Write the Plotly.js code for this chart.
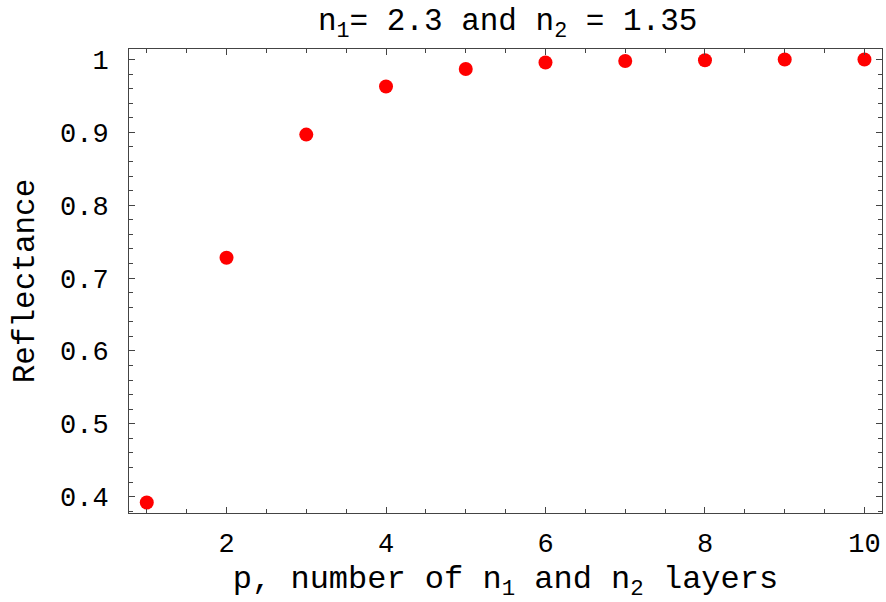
<!DOCTYPE html>
<html>
<head>
<meta charset="utf-8">
<script src="https://cdn.plot.ly/plotly-3.0.1.min.js"></script>
<style>html,body{margin:0;padding:0;background:#fff;}#chart{width:886px;height:602px;}</style>
</head>
<body>
<div id="chart"></div>
<script>
const layers = [1, 2, 3, 4, 5, 6, 7, 8, 9, 10];
const reflectance = [0.392, 0.728, 0.897, 0.963, 0.987, 0.996, 0.998, 0.999, 1.000, 1.000];
const xTickVals = [2, 4, 6, 8, 10];
const xTickText = ["2", "4", "6", "8", "10"];
const yTickVals = [0.4, 0.5, 0.6, 0.7, 0.8, 0.9, 1];
const yTickText = ["0.4", "0.5", "0.6", "0.7", "0.8", "0.9", "1"];

const font = "Liberation Mono, Courier New, monospace";
const axisColor = "#444";

const trace = {
  x: layers, y: reflectance, type: "scatter", mode: "markers",
  marker: {color: "#ff0000", size: 14}, hoverinfo: "skip"
};

const layout = {
  width: 886, height: 602,
  margin: {l: 129, r: 4, t: 49, b: 89},
  paper_bgcolor: "#fff", plot_bgcolor: "#fff",
  showlegend: false,
  font: {family: font, color: "#000", size: 27},
  title: {text: "n<sub>1</sub>= 2.3 and n<sub>2</sub> = 1.35", x: 0.573, xanchor: "center", y: 0.968, yanchor: "middle",
          font: {family: font, size: 31, color: "#000"}},
  xaxis: {
    range: [0.777, 10.22], tickvals: xTickVals, ticktext: xTickText,
    ticks: "inside", ticklen: 6, tickwidth: 1, tickcolor: axisColor,
    minor: {dtick: 0.5, tick0: 0, ticks: "inside", ticklen: 4, tickwidth: 1, tickcolor: axisColor},
    showline: true, linecolor: axisColor, linewidth: 1, mirror: "allticks",
    showgrid: false, zeroline: false,
    tickfont: {family: font, size: 27, color: "#000"}, ticklabelstandoff: 6,
    title: {text: "p, number of n<sub>1</sub> and n<sub>2</sub> layers", font: {family: font, size: 32, color: "#000"}, standoff: 20}
  },
  yaxis: {
    range: [0.3776, 1.0145], tickvals: yTickVals, ticktext: yTickText,
    ticks: "inside", ticklen: 6, tickwidth: 1, tickcolor: axisColor,
    minor: {dtick: 0.02, tick0: 0, ticks: "inside", ticklen: 4, tickwidth: 1, tickcolor: axisColor},
    showline: true, linecolor: axisColor, linewidth: 1, mirror: "allticks",
    showgrid: false, zeroline: false,
    tickfont: {family: font, size: 27, color: "#000"}, ticklabelstandoff: 14,
    title: {text: "Reflectance", font: {family: font, size: 31, color: "#000"}, standoff: 16}
  }
};

Plotly.newPlot("chart", [trace], layout, {displayModeBar: false, staticPlot: true});
</script>
</body>
</html>
